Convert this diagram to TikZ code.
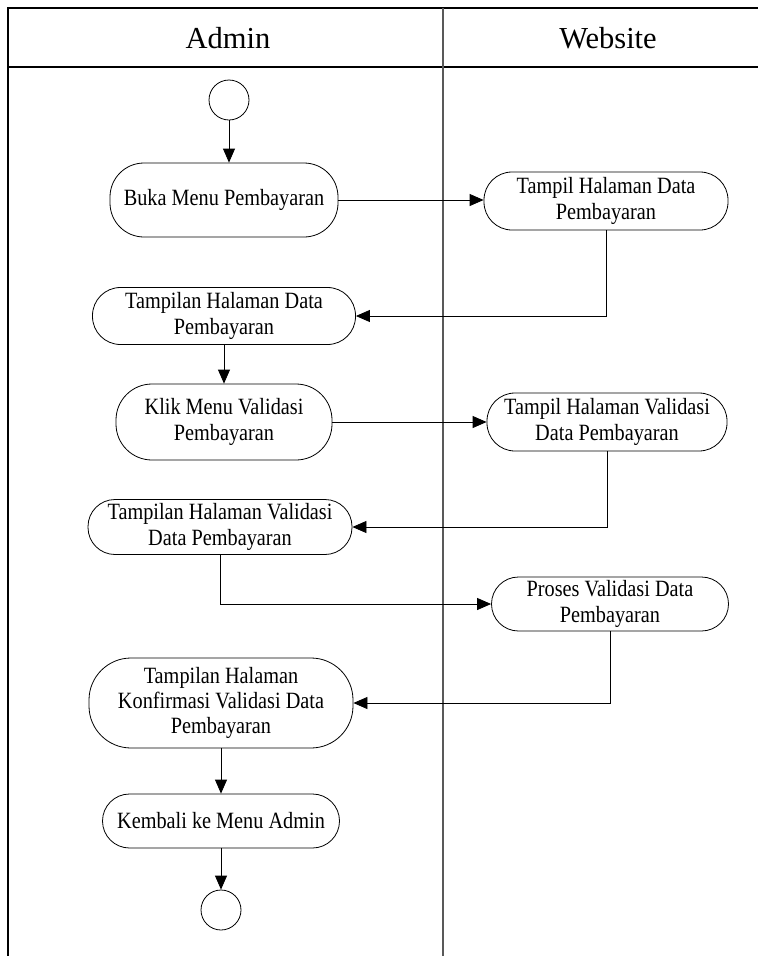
\documentclass[tikz,border=0pt]{standalone}
\usepackage{fontspec}
\setmainfont{Liberation Serif}
\newfontfamily\actfont{Liberation Serif}[FakeStretch=0.87]
\usetikzlibrary{arrows.meta}
\begin{document}
\begin{tikzpicture}[x=1pt,y=-1pt,
  frame/.style={line width=1.1pt,black},
  lanediv/.style={line width=1.3pt,black!65},
  act/.style={draw,line width=0.8pt,rectangle,align=center,
    font=\actfont\fontsize{23.3}{25.3}\selectfont,inner sep=2pt},
  endpt/.style={draw,line width=0.8pt,circle,minimum size=40pt,inner sep=0pt},
  flow/.style={line width=0.8pt,-{Triangle[length=14pt,width=12pt]}},
  lanehead/.style={font=\fontsize{30.5}{35}\selectfont}]
\useasboundingbox (0,0) rectangle (758,956);

% swimlane frame
\draw[frame] (8,956) -- (8,8) -- (758,8);
\draw[frame] (8,67) -- (758,67);
\draw[lanediv] (443,8) -- (443,956);
\node[lanehead] (hadmin) at (228,38) {Admin};
\node[lanehead] (hweb) at (608,38) {Website};

% activities
\node[endpt] (start) at (229,100) {};
\node[act,minimum width=228pt,minimum height=74pt,rounded corners=34pt] (buka) at (224,200) {Buka Menu Pembayaran};
\node[act,minimum width=244pt,minimum height=58pt,rounded corners=28pt] (tampil1) at (606,201) {Tampil Halaman Data\\Pembayaran};
\node[act,minimum width=263pt,minimum height=57pt,rounded corners=28pt] (tampilan1) at (224,316) {Tampilan Halaman Data\\Pembayaran};
\node[act,minimum width=216pt,minimum height=76pt,rounded corners=36pt] (klik) at (224,422) {Klik Menu Validasi\\Pembayaran};
\node[act,minimum width=240pt,minimum height=58pt,rounded corners=28pt] (tampil2) at (607,422) {Tampil Halaman Validasi\\Data Pembayaran};
\node[act,minimum width=264pt,minimum height=55pt,rounded corners=27pt] (tampilan2) at (220,527) {Tampilan Halaman Validasi\\Data Pembayaran};
\node[act,minimum width=237pt,minimum height=54pt,rounded corners=27pt] (proses) at (610,604) {Proses Validasi Data\\Pembayaran};
\node[act,minimum width=264pt,minimum height=90pt,rounded corners=42pt] (konf) at (221,703) {Tampilan Halaman\\Konfirmasi Validasi Data\\Pembayaran};
\node[act,minimum width=237pt,minimum height=54pt,rounded corners=27pt] (kembali) at (221,821) {Kembali ke Menu Admin};
\node[endpt] (stop) at (221,910) {};

% control flow
\draw[flow] (start.south) -- (start.south |- buka.north);
\draw[flow] (buka.east) -- (buka.east -| tampil1.west);
\draw[flow] (tampil1.south) |- (tampilan1.east);
\draw[flow] (tampilan1.south) -- (klik.north);
\draw[flow] (klik.east) -- (klik.east -| tampil2.west);
\draw[flow] (tampil2.south) |- (tampilan2.east);
\draw[flow] (tampilan2.south) |- (proses.west);
\draw[flow] (proses.south) |- (konf.east);
\draw[flow] (konf.south) -- (kembali.north);
\draw[flow] (kembali.south) -- (stop.north);
\end{tikzpicture}
\end{document}
